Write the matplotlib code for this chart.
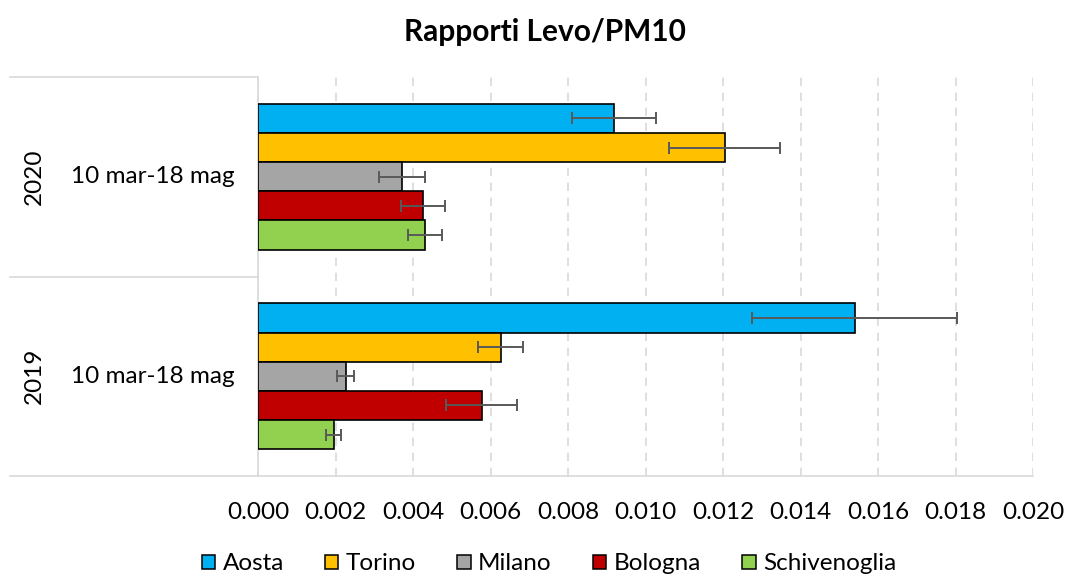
import numpy as np
import matplotlib
matplotlib.use('Agg')
import matplotlib.pyplot as plt
from matplotlib.patches import Patch

plt.rcParams['font.family'] = ['Lato', 'DejaVu Sans']

# ---- data ----
sites = ['Aosta', 'Torino', 'Milano', 'Bologna', 'Schivenoglia']
colors = ['#00B0F0', '#FFC000', '#A5A5A5', '#C00000', '#92D050']
years = ['2019', '2020']
period = '10 mar-18 mag'

val_2019 = [0.0154, 0.00626, 0.00226, 0.00577, 0.00195]
err_2019 = [0.00265, 0.00059, 0.00023, 0.00092, 0.00019]
val_2020 = [0.00918, 0.01204, 0.00371, 0.00426, 0.00431]
err_2020 = [0.00108, 0.00143, 0.00059, 0.00057, 0.00043]

xticks = np.arange(0, 0.0201, 0.002)

W, H = 1068, 575
fig = plt.figure(figsize=(W / 100, H / 100), dpi=100)
ax = fig.add_axes([258 / W, (H - 476) / H, (1033 - 258) / W, (476 - 77) / H])

bar_h = 0.146
vals = {'2019': val_2019, '2020': val_2020}
errs = {'2019': err_2019, '2020': err_2020}
for gi, yr in enumerate(years):
    for i, s in enumerate(sites):
        y = gi + (2 - i) * bar_h
        ax.barh(y, vals[yr][i], height=bar_h, color=colors[i],
                edgecolor='black', linewidth=1.2, zorder=3)
        ax.errorbar(vals[yr][i], y, xerr=errs[yr][i], fmt='none',
                    ecolor='#595959', elinewidth=1.4, capsize=4.5,
                    capthick=1.4, zorder=4)

FS = 17.5
ax.set_xlim(0, 0.020)
ax.set_ylim(-0.5, 1.5)
ax.set_xticks(xticks)
ax.set_xticklabels([f'{t:.3f}' for t in xticks], fontsize=FS)
ax.tick_params(axis='x', length=0, pad=19)
ax.set_yticks([])
ax.grid(axis='x', color='#D9D9D9', linestyle=(0, (5, 4)), linewidth=1.2, zorder=0)
for sp in ['top', 'right']:
    ax.spines[sp].set_visible(False)
ax.spines['left'].set_color('#D9D9D9')
ax.spines['bottom'].set_color('#D9D9D9')
ax.spines['left'].set_linewidth(1.2)
ax.spines['bottom'].set_linewidth(1.2)

# multi-level category axis on the left
tr = ax.get_yaxis_transform()
x0 = (10 - 258) / (1033 - 258)
for yl in [1.5, 0.5, -0.5]:
    ax.plot([x0, 0], [yl, yl], color='#D9D9D9', lw=1.2, transform=tr, clip_on=False)
x_year = (34 - 258) / (1033 - 258)
x_per = (153 - 258) / (1033 - 258)
for gi, yr in enumerate(years):
    ax.text(x_year, gi, yr, transform=tr, rotation=90, ha='center', va='center', fontsize=FS)
    ax.text(x_per, gi, period, transform=tr, ha='center', va='center', fontsize=FS)

fig.text(545 / W, (H - 32) / H, 'Rapporti Levo/PM10', ha='center', va='center',
         fontsize=21.5, fontweight='bold')

handles = [Patch(facecolor=c, edgecolor='black', linewidth=1.1) for c in colors]
fig.legend(handles, sites, loc='center', bbox_to_anchor=(549 / W, (H - 564) / H),
           ncol=5, frameon=False, fontsize=FS, handlelength=0.55, handleheight=0.55,
           handletextpad=0.3, columnspacing=1.7)

fig.savefig('out.png', dpi=100)
